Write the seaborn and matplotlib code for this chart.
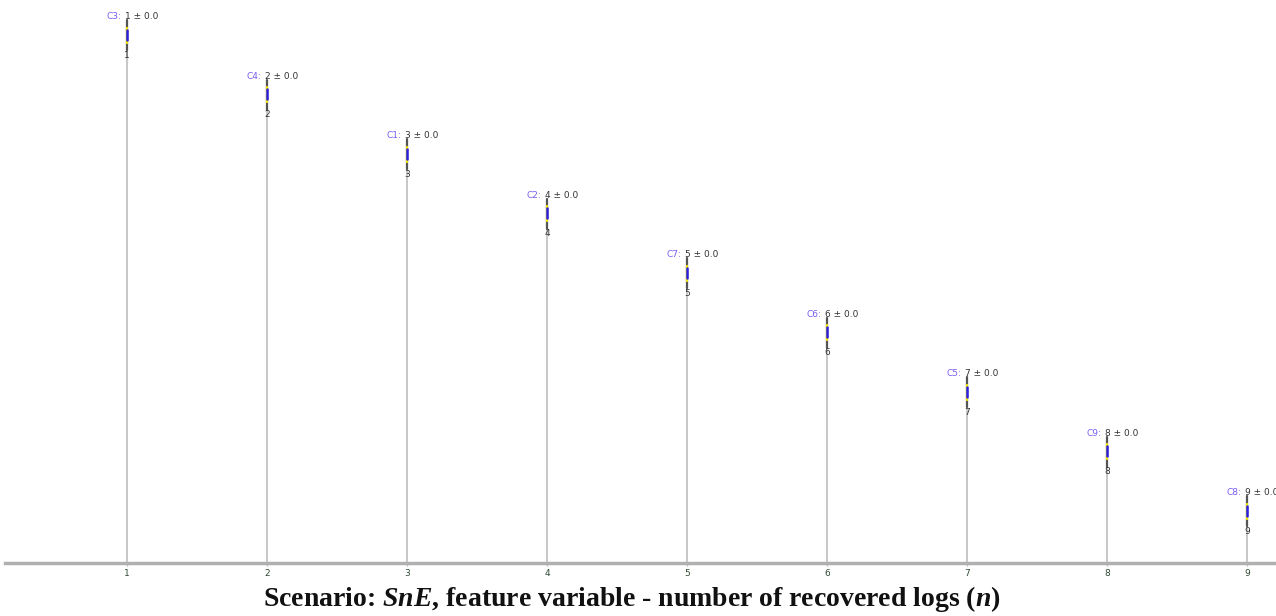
import matplotlib
matplotlib.use("Agg")
import matplotlib.pyplot as plt
import seaborn as sns
import pandas as pd

# datos
methods = ["C3", "C4", "C1", "C2", "C7", "C6", "C5", "C9", "C8"]
ranks = [1, 2, 3, 4, 5, 6, 7, 8, 9]
stds = [0.0, 0.0, 0.0, 0.0, 0.0, 0.0, 0.0, 0.0, 0.0]
heights = [9, 8, 7, 6, 5, 4, 3, 2, 1]

sns.set_theme(style="white")
plt.rcParams["mathtext.fontset"] = "custom"
plt.rcParams["mathtext.it"] = "Liberation Serif:italic:bold"
plt.rcParams["mathtext.rm"] = "Liberation Serif:bold"

df = pd.DataFrame({"rank": ranks, "h": heights, "m": methods})

fig = plt.figure(figsize=(12.76, 6.16), dpi=100)
ax = fig.add_axes([5 / 1276, 53 / 616, 1271 / 1276, 563 / 616])

# tallos grises
sns.barplot(data=df, x="rank", y="h", native_scale=True, width=0.016,
            color="#c8c8c8", saturation=1, linewidth=0, ax=ax)

for r, h, m, s in zip(ranks, heights, methods, stds):
    # barra de error punteada
    ax.plot([r, r], [h - 0.38, h + 0.12], color="#555555", lw=1.6, zorder=3)
    ax.plot([r, r], [h - 0.26, h + 0.0], color="#f2e600", lw=1.6, zorder=4)
    ax.plot([r, r], [h - 0.21, h - 0.04], color="#2a1ee0", lw=1.8, zorder=5)
    ax.text(r, h - 0.47, str(r), ha="center", va="center", fontsize=6.5,
            color="#333333", zorder=6)
    ax.annotate(f"{m}:", (r, h + 0.18), xytext=(-4, 0), textcoords="offset points",
                ha="right", va="center", fontsize=6.5, color="#7a5cf0")
    ax.annotate(f"{r} ± {s:.1f}", (r, h + 0.18), xytext=(-1.5, 0), textcoords="offset points",
                ha="left", va="center", fontsize=6.5, color="#333333")

ax.set_xlim(1 - 122 / 140, 9 + 29 / 140)
ax.set_ylim(0, 563 / 59.5)
ax.set_xticks(ranks)
ax.set_xticklabels([str(r) for r in ranks], fontsize=6.5, color="#2f4a35")
ax.set_yticks([])
ax.set_xlabel("")
ax.set_ylabel("")
ax.tick_params(axis="x", length=2, width=1, color="#bbbbbb", pad=2, bottom=True)
for side in ["top", "right", "left"]:
    ax.spines[side].set_visible(False)
ax.spines["bottom"].set_color("#b0b0b0")
ax.spines["bottom"].set_linewidth(2.5)

fig.text(632 / 1276, 1 - 599 / 616,
         r"Scenario: $\mathit{SnE}$, feature variable - number of recovered logs ($\mathit{n}$)",
         ha="center", va="center", fontsize=20, fontweight="bold",
         family="Liberation Serif", color="#111111")

fig.savefig("out.png", dpi=100)
